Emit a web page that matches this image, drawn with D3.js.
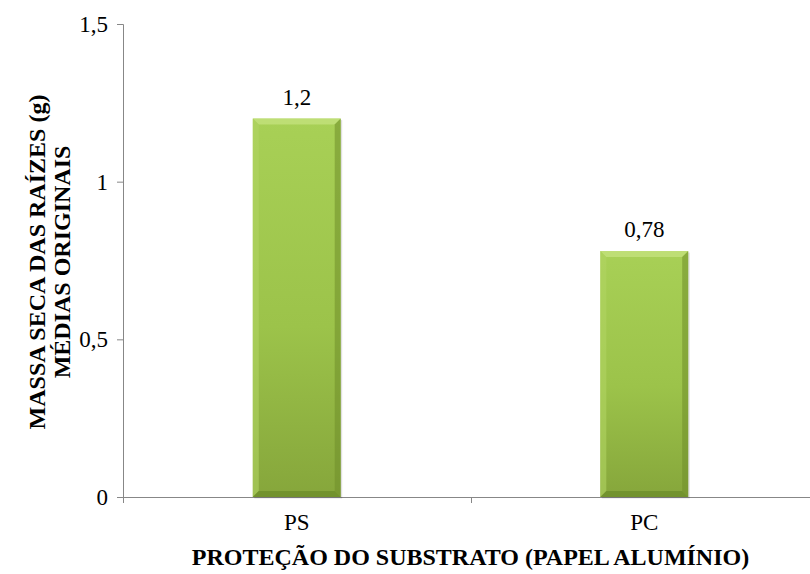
<!DOCTYPE html>
<html>
<head>
<meta charset="utf-8">
<script src="https://cdn.jsdelivr.net/npm/d3@7"></script>
<style>
  html, body { margin: 0; padding: 0; background: #ffffff; }
  svg { display: block; }
</style>
</head>
<body>
<svg id="chart" width="810" height="574"></svg>
<script>
// Dry root mass by substrate protection treatment
const categories = ["PS", "PC"];
const values = [1.2, 0.78];
const valueLabels = ["1,2", "0,78"];
const yTicks = [0, 0.5, 1, 1.5];
const yTickLabels = ["0", "0,5", "1", "1,5"];
const xTitle = "PROTEÇÃO DO SUBSTRATO (PAPEL ALUMÍNIO)";
const yTitleLines = ["MASSA SECA DAS RAÍZES (g)", "MÉDIAS ORIGINAIS"];

const FONT = "'Liberation Serif'";
const svg = d3.select("#chart").style("font-family", FONT);
const plotLeft = 123, plotRight = 818, plotTop = 24, plotBottom = 497;

const x = d3.scaleBand().domain(categories).range([plotLeft, plotRight])
  .paddingInner(0.747).paddingOuter(0.3735);
const y = d3.scaleLinear().domain([0, 1.5]).range([plotBottom, plotTop]);

// gradient for the bevelled bars
const defs = svg.append("defs");
const g1 = defs.append("linearGradient").attr("id", "barFill")
  .attr("x1", 0).attr("y1", 0).attr("x2", 0).attr("y2", 1);
g1.append("stop").attr("offset", "0%").attr("stop-color", "#a8d056");
g1.append("stop").attr("offset", "55%").attr("stop-color", "#9cc34a");
g1.append("stop").attr("offset", "100%").attr("stop-color", "#86a63b");

// y axis
const yAxis = d3.axisLeft(y).tickValues(yTicks)
  .tickFormat((d, i) => yTickLabels[i]).tickSize(6).tickPadding(9);
const gy = svg.append("g").attr("transform", `translate(${plotLeft},0)`).call(yAxis)
  .attr("font-family", null);
gy.select(".domain").attr("stroke", "#878787");
gy.selectAll(".tick line").attr("stroke", "#878787");
gy.selectAll(".tick text").style("font-size", "23px")
  .style("font-family", FONT).attr("fill", "#000");

// x axis line with ticks at category boundaries
const step = x.step();
const x0 = x.range()[0];
svg.append("line").attr("x1", plotLeft).attr("x2", 810)
  .attr("y1", plotBottom + 0.5).attr("y2", plotBottom + 0.5).attr("stroke", "#878787");
d3.range(categories.length + 1).forEach(i => {
  const bx = Math.round(x0 + i * step) + 0.5;
  svg.append("line").attr("x1", bx).attr("x2", bx)
    .attr("y1", plotBottom).attr("y2", plotBottom + 6).attr("stroke", "#878787");
});
svg.selectAll(".xlab").data(categories).enter().append("text")
  .attr("x", d => x(d) + x.bandwidth() / 2).attr("y", 530)
  .attr("text-anchor", "middle").style("font-family", FONT).style("font-size", "23px").text(d => d);

// bars
const bev = 6;
const bars = svg.selectAll(".bar").data(categories.map((c, i) => ({ c, v: values[i], lab: valueLabels[i] })))
  .enter().append("g");
bars.each(function(d) {
  const g = d3.select(this);
  const bx = x(d.c), bw = x.bandwidth();
  const by = y(d.v), bh = y(0) - y(d.v);
  g.append("rect").attr("x", bx + 1.5).attr("y", by + 1.5).attr("width", bw).attr("height", bh)
    .attr("fill", "#000").attr("opacity", 0.12);
  g.append("rect").attr("x", bx).attr("y", by).attr("width", bw).attr("height", bh)
    .attr("fill", "url(#barFill)");
  const L = bx, R = bx + bw, T = by, B = by + bh;
  // top bevel
  g.append("polygon").attr("points", `${L},${T} ${R},${T} ${R - bev},${T + bev} ${L + bev},${T + bev}`)
    .attr("fill", "#c2e07a").attr("opacity", 0.85);
  // left bevel
  g.append("polygon").attr("points", `${L},${T} ${L + bev},${T + bev} ${L + bev},${B - bev} ${L},${B}`)
    .attr("fill", "#b0d462").attr("opacity", 0.6);
  // right bevel
  g.append("polygon").attr("points", `${R},${T} ${R - bev},${T + bev} ${R - bev},${B - bev} ${R},${B}`)
    .attr("fill", "#6f8e2a").attr("opacity", 0.55);
  // bottom bevel
  g.append("polygon").attr("points", `${L},${B} ${R},${B} ${R - bev},${B - bev} ${L + bev},${B - bev}`)
    .attr("fill", "#6a8a28").attr("opacity", 0.7);
  g.append("text").attr("x", bx + bw / 2).attr("y", by - 14)
    .attr("text-anchor", "middle").style("font-family", FONT).style("font-size", "23px").text(d.lab);
});

// axis titles
svg.append("text").attr("x", (plotLeft + plotRight) / 2).attr("y", 565)
  .attr("text-anchor", "middle").style("font-family", FONT)
  .style("font-size", "24px").style("font-weight", "bold")
  .text(xTitle);
const yt = svg.append("text").attr("transform", "translate(45,262) rotate(-90)")
  .attr("text-anchor", "middle").style("font-family", FONT)
  .style("font-size", "24px").style("font-weight", "bold");
yTitleLines.forEach((t, i) => {
  yt.append("tspan").attr("x", 0).attr("dy", i === 0 ? 0 : 25).text(t);
});
</script>
</body>
</html>
